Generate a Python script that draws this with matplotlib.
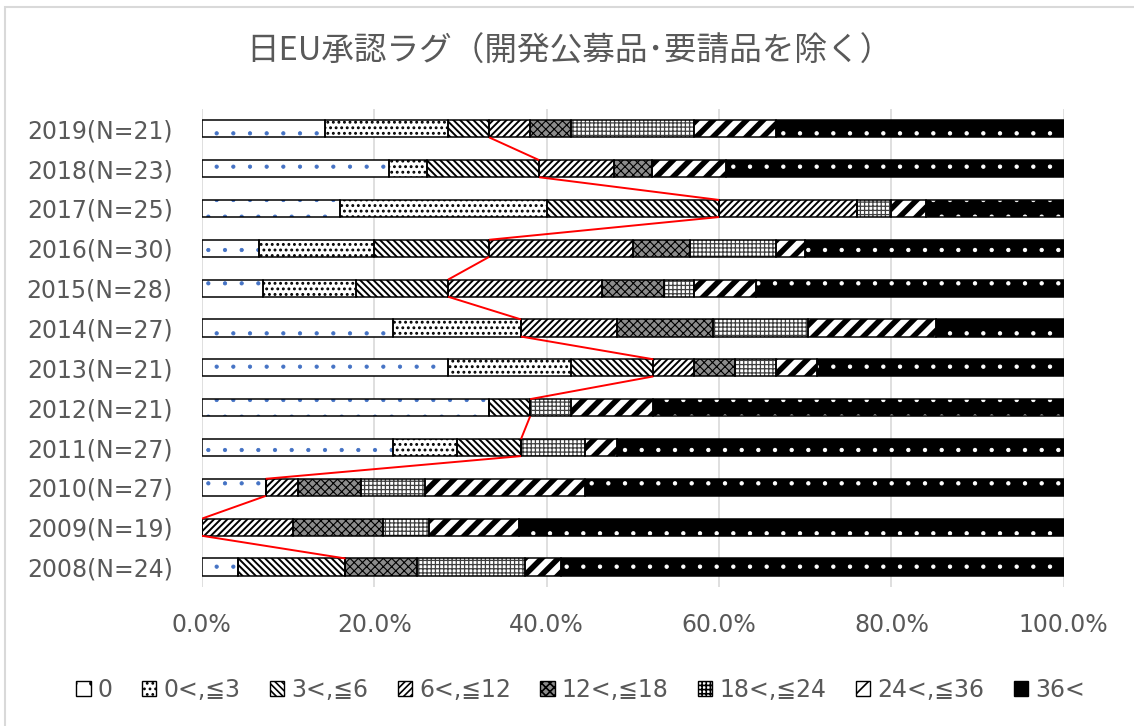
import matplotlib

matplotlib.use("Agg")
import matplotlib.pyplot as plt
import matplotlib.patches as mpatches
from matplotlib.ticker import PercentFormatter
import numpy as np

plt.rcParams["font.family"] = ["DejaVu Sans", "Noto Sans CJK JP"]
plt.rcParams["hatch.linewidth"] = 1.2

TITLE = "日EU承認ラグ（開発公募品･要請品を除く）"
YEARS = ["2019", "2018", "2017", "2016", "2015", "2014",
         "2013", "2012", "2011", "2010", "2009", "2008"]
CATEGORIES = ["0", "0<,≦3", "3<,≦6", "6<,≦12", "12<,≦18", "18<,≦24", "24<,≦36", "36<"]

# number of products per lag bucket (months), same order as YEARS
lag_0 = [3, 5, 4, 2, 2, 6, 6, 7, 6, 2, 0, 1]
lag_0_3 = [3, 1, 6, 4, 3, 4, 3, 0, 2, 0, 0, 0]
lag_3_6 = [1, 3, 5, 4, 3, 0, 2, 1, 2, 0, 0, 3]
lag_6_12 = [1, 2, 4, 5, 5, 3, 1, 0, 0, 1, 2, 0]
lag_12_18 = [1, 1, 0, 2, 2, 3, 1, 0, 0, 2, 2, 2]
lag_18_24 = [3, 0, 1, 3, 1, 3, 1, 1, 2, 2, 1, 3]
lag_24_36 = [2, 2, 1, 1, 2, 4, 1, 2, 1, 5, 2, 1]
lag_36_plus = [7, 9, 4, 9, 10, 4, 6, 10, 14, 15, 12, 14]

# (face, hatch, hatch colour, hatch linewidth)
STYLES = [
    ("white", ".", "#4472c4", 0.6),
    ("white", "...", "black", 1.3),
    ("white", "\\" * 5, "black", 1.4),
    ("white", "/" * 5, "black", 1.4),
    ("#8c8c8c", "xxxx", "black", 0.8),
    ("white", "++++", "#404040", 0.9),
    ("white", "//", "black", 4.0),
    ("black", ".", "white", 0.7),
]

counts = np.array([lag_0, lag_0_3, lag_3_6, lag_6_12,
                   lag_12_18, lag_18_24, lag_24_36, lag_36_plus], dtype=float)
totals = counts.sum(axis=0)
shares = counts / totals
labels = [f"{y}(N={int(n)})" for y, n in zip(YEARS, totals)]

fig = plt.figure(figsize=(11.34, 7.26), dpi=100)
ax = fig.add_axes([0.178, 0.1915, 0.760, 0.6585])

y = np.arange(len(YEARS))
h = 0.43
left = np.zeros(len(YEARS))
for share, (face, hatch, hcol, hlw) in zip(shares, STYLES):
    bars = ax.barh(y, share, left=left, height=h, color=face, hatch=hatch,
                   edgecolor=hcol, linewidth=0, zorder=2)
    for b in bars:
        if hasattr(b, "set_hatch_linewidth"):
            b.set_hatch_linewidth(hlw)
    ax.barh(y, share, left=left, height=h, fill=False,
            edgecolor="black", linewidth=1.1, zorder=3)
    left = left + share

# series line through the "up to 6 months" boundary
within6 = shares[:3].sum(axis=0)
for i in range(len(YEARS) - 1):
    ax.plot([within6[i], within6[i + 1]], [i + h / 2, i + 1 - h / 2],
            color="#ff0000", lw=1.4, zorder=4, solid_capstyle="butt")

ax.set_xlim(0, 1)
ax.set_ylim(len(YEARS) - 0.5, -0.5)
ax.set_yticks(y)
ax.set_yticklabels(labels)
ax.set_xticks(np.linspace(0, 1, 6))
ax.xaxis.set_major_formatter(PercentFormatter(1.0, decimals=1))
ax.tick_params(axis="y", length=0, pad=21, labelsize=17, labelcolor="#595959")
ax.tick_params(axis="x", length=0, pad=19, labelsize=17, labelcolor="#595959")
ax.grid(axis="x", color="#d9d9d9", lw=1.2, zorder=0)
ax.set_axisbelow(True)
for s in ax.spines.values():
    s.set_visible(False)

fig.text(0.502, 1 - 52 / 726, TITLE, ha="center", va="center",
         fontsize=23.5, color="#595959", family=["Noto Sans CJK JP", "DejaVu Sans"])

handles = []
for face, hatch, hcol, hlw in STYLES:
    handles.append(mpatches.Patch(facecolor=face, hatch=hatch, edgecolor="black", lw=1))
fig.legend(handles, CATEGORIES, loc="center", bbox_to_anchor=(0.512, 1 - 690 / 726),
           ncol=8, frameon=False, fontsize=17, labelcolor="#595959",
           handlelength=0.6, handleheight=0.6, handletextpad=0.3, columnspacing=1.25)

fig.add_artist(mpatches.Rectangle((5 / 1134, -0.1), 1.2, 1.1 - 8 / 726 + 0.001,
                                  transform=fig.transFigure, fill=False,
                                  edgecolor="#d9d9d9", lw=1.5))

fig.savefig("out.png", dpi=100)
